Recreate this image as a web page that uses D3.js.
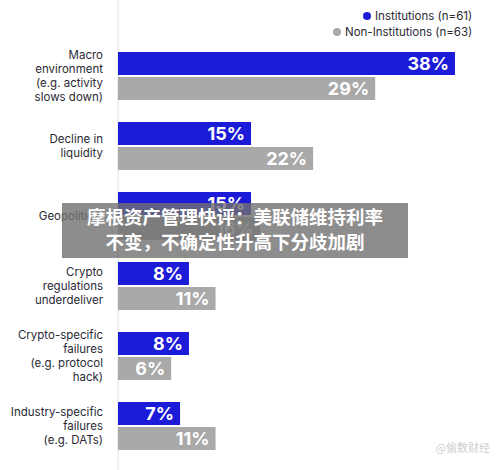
<!DOCTYPE html>
<html>
<head>
<meta charset="utf-8">
<script src="https://cdn.jsdelivr.net/npm/d3@7"></script>
<style>
  body { margin: 0; background: #fff; }
  svg { font-family: Inter, "Noto Sans", sans-serif; }
</style>
</head>
<body>
<div id="chart"></div>
<script>
const categories = [
  ['Macro', 'environment', '(e.g. activity', 'slows down)'],
  ['Decline in', 'liquidity'],
  ['Geopolitical'],
  ['Crypto', 'regulations', 'underdeliver'],
  ['Crypto-specific', 'failures', '(e.g. protocol', 'hack)'],
  ['Industry-specific', 'failures', '(e.g. DATs)'],
];
const institutions = [38, 15, 15, 8, 8, 7];
const nonInstitutions = [29, 22, 16, 11, 6, 11];
const seriesNames = ['Institutions (n=61)', 'Non-Institutions (n=63)'];
const seriesColors = ['#1c1cd8', '#a9a9a9'];

const width = 500;
const height = 470;
const x0 = 118;

const svg = d3.select('#chart').append('svg')
  .attr('width', width)
  .attr('height', height);

const x = d3.scaleLinear().domain([0, 38]).range([x0, 455]);
const y = d3.scaleBand()
  .domain(d3.range(categories.length))
  .range([41, 461])
  .paddingInner(22 / 70)
  .paddingOuter(11 / 70);
const barH = (y.bandwidth() - 2) / 2;

// axis line
svg.append('line')
  .attr('x1', x0).attr('x2', x0)
  .attr('y1', 0).attr('y2', height)
  .attr('stroke', '#dde3e6');

const groups = svg.selectAll('.grp')
  .data(categories)
  .enter().append('g')
  .attr('class', 'grp')
  .attr('transform', (d, i) => `translate(0,${y(i)})`);

[institutions, nonInstitutions].forEach((vals, s) => {
  groups.append('rect')
    .attr('x', x0)
    .attr('y', s * (barH + 2))
    .attr('width', (d, i) => x(vals[i]) - x0)
    .attr('height', barH)
    .attr('fill', seriesColors[s]);
  groups.append('text')
    .attr('x', (d, i) => x(vals[i]) - 6)
    .attr('y', s * (barH + 2) + barH / 2)
    .attr('dy', '0.36em')
    .attr('text-anchor', 'end')
    .attr('fill', '#fff')
    .attr('font-size', 18)
    .attr('font-weight', 700)
    .text((d, i) => `${vals[i]}%`);
});

groups.each(function addLabel(lines) {
  const lh = 14;
  const top = y.bandwidth() / 2 - ((lines.length - 1) * lh) / 2;
  d3.select(this).selectAll('.lbl')
    .data(lines)
    .enter().append('text')
    .attr('x', 103)
    .attr('y', (d, j) => top + j * lh)
    .attr('dy', '0.35em')
    .attr('text-anchor', 'end')
    .attr('font-size', 11.5)
    .attr('fill', '#2a2a35')
    .text(d => d);
});

// legend
const legend = svg.append('g');
seriesNames.forEach((name, s) => {
  const ly = 16 + s * 16;
  legend.append('circle')
    .attr('cx', 367 - s * 30).attr('cy', ly)
    .attr('r', 4)
    .attr('fill', seriesColors[s]);
  legend.append('text')
    .attr('x', 375 - s * 30).attr('y', ly)
    .attr('dy', '0.35em')
    .attr('font-size', 11.5)
    .attr('fill', '#2a2a35')
    .text(name);
});

// overlay banner
svg.append('rect')
  .attr('x', 62).attr('y', 203)
  .attr('width', 346).attr('height', 55)
  .attr('fill', '#707070')
  .attr('opacity', 0.8);
['摩根资产管理快评：美联储维持利率', '不变，不确定性升高下分歧加剧'].forEach((t, i) => {
  svg.append('text')
    .attr('x', 235).attr('y', 218 + i * 25)
    .attr('dy', '0.35em')
    .attr('text-anchor', 'middle')
    .attr('font-family', '"Noto Sans CJK SC", sans-serif')
    .attr('font-size', 18.5)
    .attr('font-weight', 700)
    .attr('fill', '#fff')
    .text(t);
});

svg.append('text')
  .attr('x', 490).attr('y', 452)
  .attr('text-anchor', 'end')
  .attr('font-family', '"Noto Sans CJK SC", sans-serif')
  .attr('font-size', 11)
  .attr('fill', '#cfcfcf')
  .text('@偷数财经');
</script>
</body>
</html>
